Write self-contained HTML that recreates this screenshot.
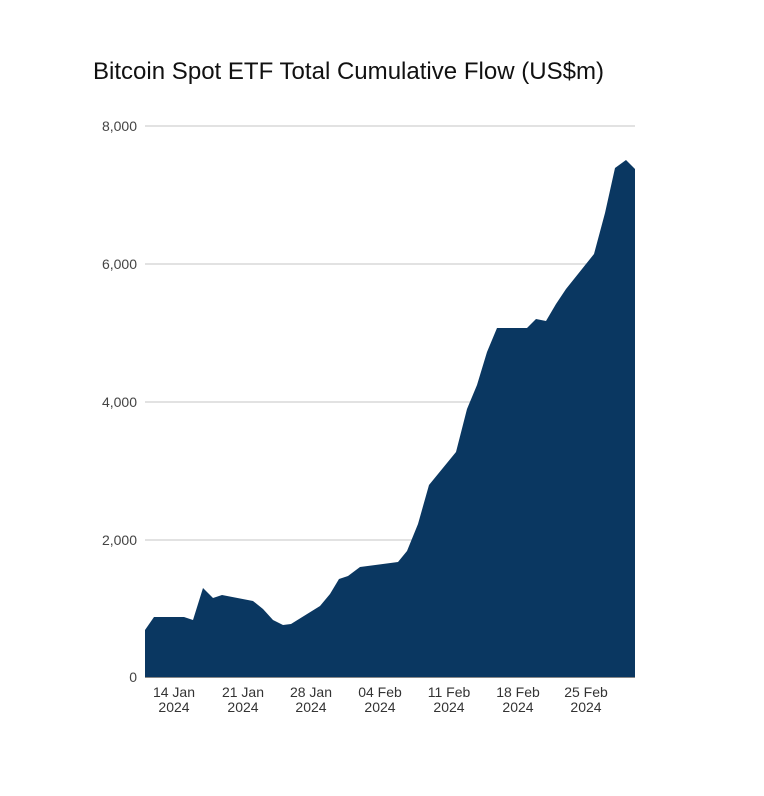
<!DOCTYPE html>
<html><head><style>
body{margin:0;background:#fff;}
svg{display:block;font-family:"Liberation Sans",Arial,sans-serif;}
</style></head><body>
<svg width="764" height="796" xmlns="http://www.w3.org/2000/svg">
<rect width="764" height="796" fill="#fff"/>
<text x="93" y="79" font-size="24" textLength="511" lengthAdjust="spacingAndGlyphs" fill="#111">Bitcoin Spot ETF Total Cumulative Flow (US$m)</text>
<g stroke="#d0d0d0" stroke-width="1.3">
<line x1="145" y1="126" x2="635" y2="126"/>
<line x1="145" y1="264" x2="635" y2="264"/>
<line x1="145" y1="402" x2="635" y2="402"/>
<line x1="145" y1="540" x2="635" y2="540"/>
</g>
<g font-size="14" fill="#444" text-anchor="end">
<text x="137" y="131">8,000</text>
<text x="137" y="269">6,000</text>
<text x="137" y="407">4,000</text>
<text x="137" y="545">2,000</text>
<text x="137" y="682">0</text>
</g>
<polygon fill="#0a3761" points="145,677 145,630 154,617 184,617 193,620 203,588 213,598 222,595 253,601 263,609 273,620 283,625 291,624 320,606 330,594 339,579 348,576 360,567 398,562 407,551 418,524 429,485 456,452 467,409 477,385 487,352 497,328 527,328 536,319 546,321 556,304 566,289 594,254 605,213 615,168 626,160 635,169 635,677"/>
<line x1="145" y1="677.5" x2="635" y2="677.5" stroke="#888" stroke-width="1"/>
<g font-size="14" fill="#333" text-anchor="middle">
<text x="174" y="697">14 Jan</text><text x="174" y="712">2024</text>
<text x="243" y="697">21 Jan</text><text x="243" y="712">2024</text>
<text x="311" y="697">28 Jan</text><text x="311" y="712">2024</text>
<text x="380" y="697">04 Feb</text><text x="380" y="712">2024</text>
<text x="449" y="697">11 Feb</text><text x="449" y="712">2024</text>
<text x="518" y="697">18 Feb</text><text x="518" y="712">2024</text>
<text x="586" y="697">25 Feb</text><text x="586" y="712">2024</text>
</g>
</svg>
</body></html>
